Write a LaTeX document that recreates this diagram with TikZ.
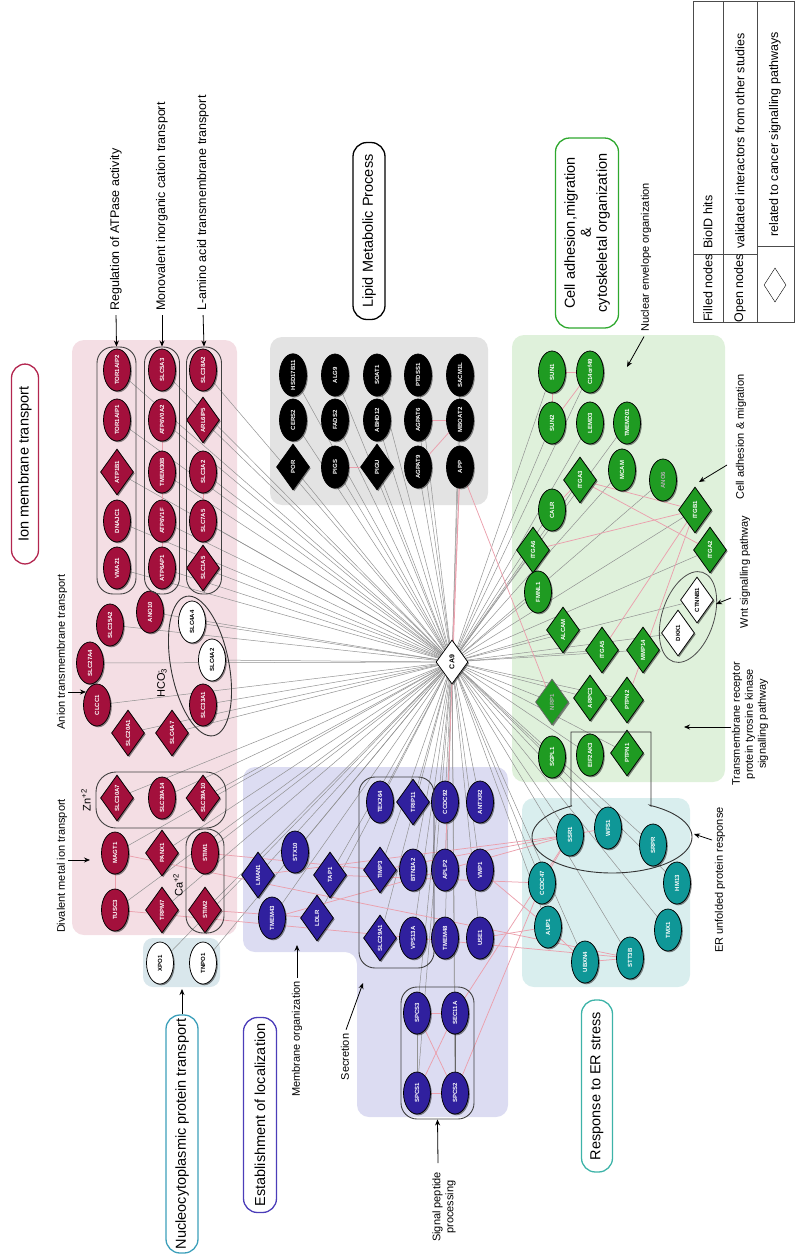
\documentclass[tikz,border=0pt]{standalone}
\usepackage{fontspec}
\setmainfont{Liberation Sans}
\usetikzlibrary{shapes.geometric,arrows.meta,shadows}
\pgfdeclarelayer{regions}
\pgfdeclarelayer{links}
\pgfsetlayers{regions,links,main}

\definecolor{ionfill}{HTML}{F4DEE4}
\definecolor{ionnode}{HTML}{A3103C}
\definecolor{lipfill}{HTML}{E3E3E3}
\definecolor{adhfill}{HTML}{DFF1DB}
\definecolor{adhnode}{HTML}{1F9B22}
\definecolor{locfill}{HTML}{DCDCF2}
\definecolor{locnode}{HTML}{30209E}
\definecolor{erfill}{HTML}{D9EEEE}
\definecolor{ernode}{HTML}{0F9797}
\definecolor{nucfill}{HTML}{D9E7EC}
\definecolor{hubline}{HTML}{929292}
\definecolor{ppiline}{HTML}{EBA0AD}
\definecolor{ionframe}{HTML}{B3264F}
\definecolor{adhframe}{HTML}{2EA82E}
\definecolor{locframe}{HTML}{4B3DB9}
\definecolor{erframe}{HTML}{3DB3A8}
\definecolor{nucframe}{HTML}{3C9FBA}

\tikzset{
  gene/.style={rotate=90, inner sep=0pt, draw=black, line width=0.75pt,
    font=\bfseries\fontsize{6}{6.5}\selectfont, text=white,
    drop shadow={shadow xshift=1.3pt, shadow yshift=-1.3pt, opacity=0.45, fill=black}},
  ell/.style={gene, ellipse, minimum width=42pt, minimum height=27pt},
  dia/.style={gene, diamond, minimum width=46pt, minimum height=33pt},
  ion/.style={fill=ionnode},
  lip/.style={fill=black},
  adh/.style={fill=adhnode},
  loc/.style={fill=locnode},
  erc/.style={fill=ernode},
  opennode/.style={fill=white, text=black},
  faint/.style={text=white!70!black},
  hub/.style={draw=hubline, line width=0.5pt},
  ppi/.style={draw=ppiline, line width=0.75pt},
  grp/.style={draw=black!75, line width=0.9pt, rounded corners=16pt, inner sep=0pt},
  catbox/.style={rotate=90, draw, line width=1.3pt, rounded corners=14pt, inner sep=0pt,
    minimum height=31pt, align=center, font=\fontsize{14.5}{17}\selectfont},
  anno/.style={rotate=90, inner sep=1pt, align=center, font=\fontsize{11}{13}\selectfont},
  biganno/.style={anno, font=\fontsize{12.5}{14}\selectfont},
  legtext/.style={rotate=90, inner sep=1pt, font=\fontsize{12.5}{14}\selectfont},
  pointer/.style={-{Stealth[length=6pt,width=5pt]}, line width=0.8pt},
}

\begin{document}
\begin{tikzpicture}[x=1pt,y=-1pt]
\useasboundingbox (0,0) rectangle (795,1254);

% ---------- shaded process areas ----------
\begin{pgfonlayer}{regions}
  \fill[ionfill, rounded corners=12pt] (72,340) rectangle (237,935);
  \fill[lipfill, rounded corners=12pt] (270,337) rectangle (488,505);
  \fill[adhfill, rounded corners=12pt] (512,335) rectangle (725,782);
  \fill[erfill, rounded corners=12pt] (522,798) rectangle (690,987);
  \fill[nucfill, rounded corners=10pt] (143,938) rectangle (220,987);
  \fill[locfill, rounded corners=12pt] (243,767) -- (508,767) -- (508,1117)
      -- (357,1117) -- (357,952) -- (243,952) -- cycle;
\end{pgfonlayer}

% ---------- hub ----------
\node[dia, opennode, minimum width=44pt, minimum height=32pt,
      font=\bfseries\fontsize{7}{8}\selectfont] (CA9) at (452,662) {CA9};

% ---------- ion membrane transport ----------
\node[ell,ion] (TOR1AIP2) at (117,370) {TOR1AIP2};
\node[ell,ion] (TOR1AIP1) at (117,420) {TOR1AIP1};
\node[dia,ion] (ATP1B1)   at (117,472) {ATP1B1};
\node[ell,ion] (DNAJC1)   at (117,521) {DNAJC1};
\node[ell,ion] (VMA21)    at (117,568) {VMA21};
\node[ell,ion] (SLC5A3)   at (162,370) {SLC5A3};
\node[ell,ion] (ATP6V0A2) at (162,420) {ATP6V0A2};
\node[ell,ion] (TMEM30B)  at (162,472) {TMEM30B};
\node[ell,ion] (ATP6V1F)  at (162,521) {ATP6V1F};
\node[ell,ion] (ATP6AP1)  at (162,568) {ATP6AP1};
\node[ell,ion] (SLC38A2)  at (203,370) {SLC38A2};
\node[dia,ion] (ARL6IP5)  at (203,420) {ARL6IP5};
\node[ell,ion] (SLC3A2)   at (203,472) {SLC3A2};
\node[ell,ion] (SLC7A5)   at (203,521) {SLC7A5};
\node[dia,ion] (SLC1A5)   at (203,568) {SLC1A5};

\node[ell,ion] (SLC35A2)  at (110,625) {SLC35A2};
\node[ell,ion] (ANO10)    at (150,612) {ANO10};
\node[ell,ion] (SLC27A4)  at (90,663)  {SLC27A4};
\node[ell,ion] (CLCC1)    at (97,705)  {CLCC1};
\node[dia,ion] (SLC20A1)  at (128,733) {SLC20A1};
\node[dia,ion] (SLC4A7)   at (172,733) {SLC4A7};
\node[ell,opennode] (SLC4A4) at (192,622) {SLC4A4};
\node[ell,opennode] (SLC4A2) at (212,660) {SLC4A2};
\node[ell,ion] (SLC33A1)  at (203,705) {SLC33A1};

\node[dia,ion] (SLC30A7)  at (117,798) {SLC30A7};
\node[ell,ion] (SLC39A14) at (162,798) {SLC39A14};
\node[dia,ion] (SLC39A10) at (203,798) {SLC39A10};

\node[ell,ion] (MAGT1)    at (115,853) {MAGT1};
\node[dia,ion] (PANX1)    at (162,853) {PANX1};
\node[ell,ion] (STIM1)    at (205,853) {STIM1};
\node[ell,ion] (TUSC3)    at (115,910) {TUSC3};
\node[dia,ion] (TRPM7)    at (162,910) {TRPM7};
\node[dia,ion] (STIM2)    at (205,910) {STIM2};

\node[ell,opennode] (XPO1)  at (160,963) {XPO1};
\node[ell,opennode] (TNPO1) at (203,963) {TNPO1};

% group outlines
\node[grp, rotate=90, minimum width=247pt, minimum height=39pt] (colATP)   at (116.5,470.5) {};
\node[grp, rotate=90, minimum width=247pt, minimum height=35pt] (colCat)   at (162,470.5) {};
\node[grp, rotate=90, minimum width=247pt, minimum height=35pt] (colAmino) at (204,470.5) {};
\node[grp, minimum width=130pt, minimum height=56pt, rounded corners=20pt] (znbox) at (161,800) {};
\node[grp, rotate=90, minimum width=104pt, minimum height=38pt, rounded corners=17pt] (cabox) at (205,881) {};
\node[draw=black!80, line width=0.9pt, ellipse, rotate=101, minimum width=142pt, minimum height=58pt] (hcogrp) at (200,666) {};

\node[rotate=90, font=\fontsize{11}{12}\selectfont] (zn) at (86,800) {Zn\textsuperscript{+2}};
\node[rotate=90, font=\fontsize{11}{12}\selectfont] (ca) at (178,885) {Ca\textsuperscript{+2}};
\node[rotate=90, font=\fontsize{11}{12}\selectfont] (hco) at (162,683) {HCO\rlap{\textsuperscript{-}}\textsubscript{3}};

% ---------- lipid metabolic process ----------
\node[ell,lip] (HSD17B11) at (293,375) {HSD17B11};
\node[ell,lip] (ALG9)     at (335,375) {ALG9};
\node[ell,lip] (SOAT1)    at (377,375) {SOAT1};
\node[ell,lip] (PTDSS1)   at (418,375) {PTDSS1};
\node[ell,lip] (SACM1L)   at (460,375) {SACM1L};
\node[ell,lip] (CERS2)    at (293,420) {CERS2};
\node[ell,lip] (FADS2)    at (335,420) {FADS2};
\node[ell,lip] (ABHD12)   at (377,420) {ABHD12};
\node[ell,lip] (AGPAT6)   at (418,420) {AGPAT6};
\node[ell,lip] (MBOAT2)   at (460,420) {MBOAT2};
\node[dia,lip] (POR)      at (293,467) {POR};
\node[ell,lip] (PIGS)     at (335,467) {PIGS};
\node[dia,lip] (PIGU)     at (377,467) {PIGU};
\node[ell,lip] (AGPAT9)   at (418,467) {AGPAT9};
\node[ell,lip] (APP)      at (460,467) {APP};

% ---------- adhesion, migration, cytoskeleton ----------
\node[ell,adh] (SUN1)     at (552,372) {SUN1};
\node[ell,adh] (C14orf49) at (590,372) {C14orf49};
\node[ell,adh] (SUN2)     at (552,423) {SUN2};
\node[ell,adh] (LEMD3)    at (590,423) {LEMD3};
\node[ell,adh] (TMEM201)  at (627,423) {TMEM201};
\node[ell,adh] (MCAM)     at (622,470) {MCAM};
\node[ell,adh,faint] (ANO6) at (663,480) {ANO6};
\node[dia,adh] (ITGA3)    at (580,480) {ITGA3};
\node[ell,adh] (CALR)     at (552,510) {CALR};
\node[dia,adh] (ITGA6)    at (533,550) {ITGA6};
\node[dia,adh] (ITGB1)    at (695,510) {ITGB1};
\node[dia,adh] (ITGA2)    at (710,550) {ITGA2};
\node[ell,adh] (FMNL1)    at (538,592) {FMNL1};
\node[dia,adh] (ALCAM)    at (563,630) {ALCAM};
\node[dia,adh] (ITGA5)    at (602,650) {ITGA5};
\node[dia,adh] (MMP14)    at (643,650) {MMP14};
\node[dia,opennode] (DKK1)   at (678,633) {DKK1};
\node[dia,opennode] (CTNNB1) at (697,600) {CTNNB1};
\node[dia,adh,faint,draw=black!60] (NRP1) at (552,702) {NRP1};
\node[dia,adh] (ARPC3)    at (590,698) {ARPC3};
\node[dia,adh] (PTPN2)    at (627,700) {PTPN2};
\node[ell,adh] (SGPL1)    at (552,757) {SGPL1};
\node[ell,adh] (EIF2AK3)  at (590,755) {EIF2AK3};
\node[dia,adh] (PTPN1)    at (627,753) {PTPN1};
\node[draw=black!70, line width=0.8pt, ellipse, rotate=72, minimum width=94pt, minimum height=52pt] (wntgrp) at (688,617) {};

% ---------- ER stress ----------
\node[ell,erc] (SSR1)   at (570,835) {SSR1};
\node[ell,erc] (WFS1)   at (608,828) {WFS1};
\node[ell,erc] (SRPR)   at (653,845) {SRPR};
\node[ell,erc] (CCDC47) at (542,883) {CCDC47};
\node[ell,erc] (HM13)   at (677,883) {HM13};
\node[ell,erc] (AUP1)   at (548,927) {AUP1};
\node[ell,erc] (TMX1)   at (668,930) {TMX1};
\node[ell,erc] (UBXN4)  at (585,962) {UBXN4};
\node[ell,erc] (STT3B)  at (630,958) {STT3B};
\draw[black!80, line width=0.9pt] (571,806) -- (571,732) -- (651,732) -- (651,806)
   -- plot[domain=-61.6:240, samples=90] ({612+80*cos(\x)},{837+36*sin(\x)}) -- cycle;

% ---------- establishment of localization ----------
\node[dia,loc] (LMAN1)   at (258,875) {LMAN1};
\node[ell,loc] (STX10)   at (295,852) {STX10};
\node[dia,loc] (TAP1)    at (330,875) {TAP1};
\node[ell,loc] (TMEM43)  at (272,918) {TMEM43};
\node[dia,loc] (LDLR)    at (317,918) {LDLR};
\node[ell,loc] (TEX264)  at (380,802) {TEX264};
\node[dia,loc] (TRIP11)  at (413,802) {TRIP11};
\node[ell,loc] (CCDC92)  at (445,802) {CCDC92};
\node[ell,loc] (ANTXR2)  at (480,802) {ANTXR2};
\node[dia,loc] (TIMP3)   at (380,870) {TIMP3};
\node[ell,loc] (BTN3A2)  at (413,870) {BTN3A2};
\node[ell,loc] (APLP2)   at (445,870) {APLP2};
\node[ell,loc] (VMP1)    at (480,870) {VMP1};
\node[dia,loc] (SLC29A1) at (380,938) {SLC29A1};
\node[ell,loc] (VPS13A)  at (413,938) {VPS13A};
\node[ell,loc] (TMEM48)  at (445,938) {TMEM48};
\node[ell,loc] (USE1)    at (480,938) {USE1};
\node[ell,loc] (SPCS3)   at (417,1013) {SPCS3};
\node[ell,loc] (SEC11A)  at (455,1013) {SEC11A};
\node[ell,loc] (SPCS1)   at (417,1093) {SPCS1};
\node[ell,loc] (SPCS2)   at (455,1093) {SPCS2};
\node[grp, rotate=90, minimum width=191pt, minimum height=75pt] (secbox) at (396.5,872.5) {};
\node[grp, rotate=90, minimum width=132pt, minimum height=73pt] (spbox) at (437.5,1053) {};

% ---------- process titles ----------
\node[catbox, draw=ionframe, minimum width=200pt, minimum height=27pt] (catIon) at (25,464) {Ion membrane transport};
\node[catbox, draw=black, minimum width=177pt, minimum height=32pt] (catLip) at (369,231) {Lipid Metabolic Process};
\node[catbox, draw=adhframe, minimum width=190pt, minimum height=63pt] (catAdh) at (587,233)
   {Cell adhesion,migration\\[-1pt]\&\\[-1pt]cytoskeletal organization};
\node[catbox, draw=nucframe, minimum width=238pt, minimum height=32pt] (catNuc) at (182,1134) {Nucleocytoplasmic protein transport};
\node[catbox, draw=locframe, minimum width=195pt, minimum height=33pt] (catLoc) at (260,1115) {Establishment of localization};
\node[catbox, draw=erframe, minimum width=172pt, minimum height=31pt] (catER) at (597,1086) {Response to ER stress};

% ---------- annotations ----------
\node[biganno, anchor=west] (labATP)   at (116,312) {Regulation of ATPase activity};
\node[biganno, anchor=west] (labCat)   at (162,312) {Monovalent inorganic cation transport};
\node[biganno, anchor=west] (labAmino) at (203,312) {L-amino acid transmembrane transport};
\draw[pointer, shorten <=3pt] (labATP.west) -- (colATP.east);
\draw[pointer, shorten <=3pt] (labCat.west) -- (colCat.east);
\draw[pointer, shorten <=3pt] (labAmino.west) -- (colAmino.east);

\node[anno] (labAnion) at (62,652) {Anion transmembrane transport};
\coordinate (anionTail) at (68,692);
\coordinate (anionHead) at (86,692);
\draw[pointer] (anionTail) -- (anionHead);

\node[anno] (labDiv) at (62,866) {Divalent metal ion transport};
\coordinate (divTail) at (68,860);
\coordinate (divHead) at (90,860);
\draw[pointer] (divTail) -- (divHead);

\coordinate (nucHead) at (182,989);
\draw[pointer] (catNuc.east) -- (nucHead);

\node[anno, anchor=east] (labMem) at (297,980) {Membrane organization};
\coordinate (memHead) at (297,945);
\draw[pointer, shorten <=2pt] (labMem.east) -- (memHead);

\node[anno] (labSec) at (345,1057) {Secretion};
\coordinate (secHead) at (363,983);
\draw[pointer, shorten <=3pt] (labSec.east) -- (secHead);

\node[anno] (labSig) at (444,1207) {Signal peptide\\processing};
\coordinate (sigTail) at (438,1163);
\draw[pointer] (sigTail) -- (spbox.west);

\node[anno, anchor=west] (labNuc) at (646,333) {Nuclear envelope organization};
\coordinate (nucEnvHead) at (627,367);
\draw[pointer, shorten <=4pt] (labNuc.west) -- (nucEnvHead);

\node[anno] (labMig) at (741,437) {Cell adhesion \& migration};
\coordinate (migTail) at (727,465);
\coordinate (migHead) at (699,482);
\draw[pointer] (migTail) -- (migHead);

\node[anno] (labWnt) at (745,572) {Wnt signalling pathway};
\coordinate (wntTail) at (731,598);
\coordinate (wntHead) at (716,604);
\draw[pointer] (wntTail) -- (wntHead);

\node[anno] (labRTK) at (750,724) {Transmembrane receptor\\protein tyrosine kinase\\signalling pathway};
\coordinate (rtkTail) at (731,727);
\coordinate (rtkHead) at (684,727);
\draw[pointer] (rtkTail) -- (rtkHead);

\node[anno] (labUPR) at (720,880) {ER unfolded protein response};
\coordinate (uprTail) at (712,840);
\coordinate (uprHead) at (694,834);
\draw[pointer] (uprTail) -- (uprHead);

% ---------- legend ----------
\draw[black!70, line width=0.8pt] (693,1) rectangle (794,322);
\draw[black!70, line width=0.8pt] (723,1) -- (723,322) (757,1) -- (757,322)
   (693,254) -- (757,254) (757,246) -- (794,246);
\node[legtext] (legFilled) at (708,288) {Filled nodes};
\node[legtext, anchor=west] (legBio) at (708,250) {BioID hits};
\node[legtext] (legOpen) at (740,288) {Open nodes};
\node[legtext, anchor=west] (legVal) at (740,250) {validated interactors from other studies};
\node[diamond, draw, rotate=90, minimum width=34pt, minimum height=22pt, inner sep=0pt] (legDia) at (775,285) {};
\node[legtext, anchor=west] (legCan) at (775,238) {related to cancer signalling pathways};

% ---------- interactions ----------
\begin{pgfonlayer}{links}
\foreach \g in {TOR1AIP2,TOR1AIP1,ATP1B1,DNAJC1,VMA21,SLC5A3,ATP6V0A2,TMEM30B,ATP6V1F,ATP6AP1,
  SLC38A2,ARL6IP5,SLC3A2,SLC7A5,SLC1A5,SLC35A2,ANO10,SLC27A4,CLCC1,SLC20A1,SLC4A7,SLC4A4,SLC4A2,
  SLC33A1,SLC30A7,SLC39A14,SLC39A10,MAGT1,PANX1,STIM1,TUSC3,TRPM7,STIM2,XPO1,TNPO1,
  HSD17B11,ALG9,SOAT1,PTDSS1,SACM1L,CERS2,FADS2,ABHD12,AGPAT6,MBOAT2,POR,PIGS,PIGU,AGPAT9,
  SUN1,C14orf49,SUN2,LEMD3,TMEM201,MCAM,ANO6,ITGA3,CALR,ITGA6,ITGB1,ITGA2,FMNL1,ALCAM,ITGA5,
  MMP14,DKK1,CTNNB1,NRP1,ARPC3,PTPN2,SGPL1,EIF2AK3,PTPN1,
  SSR1,WFS1,SRPR,CCDC47,HM13,AUP1,TMX1,UBXN4,STT3B,
  LMAN1,STX10,TAP1,TMEM43,LDLR,TEX264,TRIP11,CCDC92,ANTXR2,TIMP3,BTN3A2,APLP2,VMP1,
  SLC29A1,VPS13A,TMEM48,USE1,SPCS3,SEC11A,SPCS1,SPCS2}
  \draw[hub] (CA9) -- (\g);
\draw[ppi] (CA9) -- (APP);
\foreach \a/\b in {TMEM30B/ATP6V0A2,TMEM30B/ATP6V1F,ATP6V1F/ATP6AP1,SLC3A2/SLC7A5,
  MAGT1/TUSC3,MAGT1/STT3B,TUSC3/STT3B,STIM1/TIMP3,STIM2/LDLR,
  PIGS/PIGU,AGPAT6/MBOAT2,AGPAT9/MBOAT2,APP/APLP2,APP/NRP1,
  SUN1/C14orf49,SUN1/SUN2,SUN2/C14orf49,ITGA3/ITGB1,ITGA3/ITGA2,ITGA6/ITGB1,CALR/ITGA3,
  ITGB1/ITGA5,ITGB1/PTPN2,
  SSR1/WFS1,SSR1/CCDC47,AUP1/UBXN4,UBXN4/STT3B,
  SPCS1/SPCS2,SPCS3/SEC11A,SPCS1/SEC11A,SPCS3/SPCS2,
  LMAN1/SSR1,TMEM43/SSR1,TAP1/CCDC47,SEC11A/SSR1,SPCS2/CCDC47,USE1/AUP1,TIMP3/SSR1,VMP1/AUP1}
  \draw[ppi] (\a) -- (\b);
\draw[hub] (SPCS1) -- (SPCS3);
\draw[draw=black!60, line width=0.6pt] (SEC11A) -- (SPCS2);
\end{pgfonlayer}
\end{tikzpicture}
\end{document}
